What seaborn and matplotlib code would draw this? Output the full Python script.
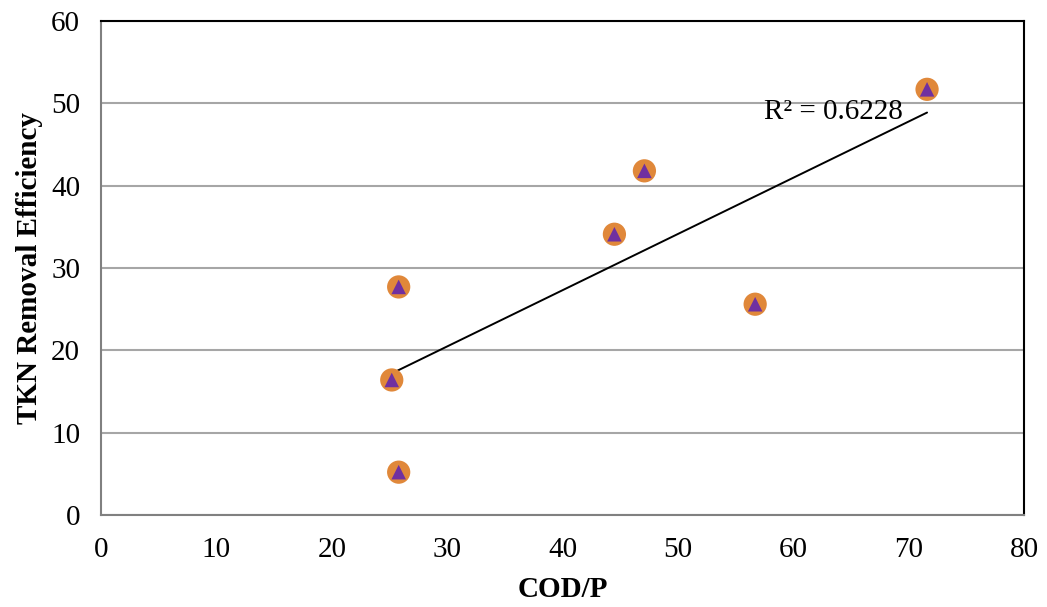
import pandas as pd
import matplotlib
matplotlib.use("Agg")
import matplotlib.pyplot as plt
import seaborn as sns

# values
cod_p = [25.2, 25.8, 25.8, 44.5, 47.1, 56.7, 71.6]
tkn_removal = [16.4, 27.7, 5.2, 34.1, 41.8, 25.6, 51.7]
r2_label = "R² = 0.6228"

df = pd.DataFrame({"COD/P": cod_p, "TKN": tkn_removal})

sns.set_style("white")
plt.rcParams['font.family'] = ['Liberation Serif', 'DejaVu Serif']
plt.rcParams['text.color'] = 'black'
plt.rcParams['axes.labelcolor'] = 'black'
plt.rcParams['xtick.color'] = 'black'
plt.rcParams['ytick.color'] = 'black'

fig = plt.figure(figsize=(10.47, 6.07), dpi=100)
ax = fig.add_axes([0.0965, 0.1516, 0.8815, 0.8138])

# Excel-like horizontal grid
ax.set_axisbelow(True)
ax.yaxis.grid(True, color='#a6a6a6', linewidth=1.5)

# linear trendline
sns.regplot(data=df, x="COD/P", y="TKN", scatter=False, ci=None, truncate=True,
            color='black', line_kws={'linewidth': 1.4}, ax=ax)

# orange circle with purple triangle on top
sns.scatterplot(data=df, x="COD/P", y="TKN", s=280, color='#e0883a',
                edgecolor='none', marker='o', ax=ax, zorder=3)
sns.scatterplot(data=df, x="COD/P", y="TKN", s=110, color='#7030a0',
                edgecolor='none', marker='^', ax=ax, zorder=4)

ax.text(57.5, 48.1, r2_label, fontsize=21, ha='left', va='baseline')

ax.set_xlim(0, 80)
ax.set_ylim(0, 60)
ax.set_xticks(range(0, 81, 10))
ax.set_yticks(range(0, 61, 10))
ax.tick_params(axis='x', labelsize=21, length=0, pad=16)
ax.tick_params(axis='y', labelsize=21, length=0, pad=15)

ax.set_xlabel("COD/P", fontsize=21, fontweight='bold', labelpad=9)
ax.set_ylabel("TKN Removal Efficiency", fontsize=21, fontweight='bold', labelpad=6)

for side in ['left', 'bottom']:
    ax.spines[side].set_color('#808080')
    ax.spines[side].set_linewidth(1.5)
for side in ['top', 'right']:
    ax.spines[side].set_color('black')
    ax.spines[side].set_linewidth(1.5)

fig.savefig("out.png", dpi=100)
